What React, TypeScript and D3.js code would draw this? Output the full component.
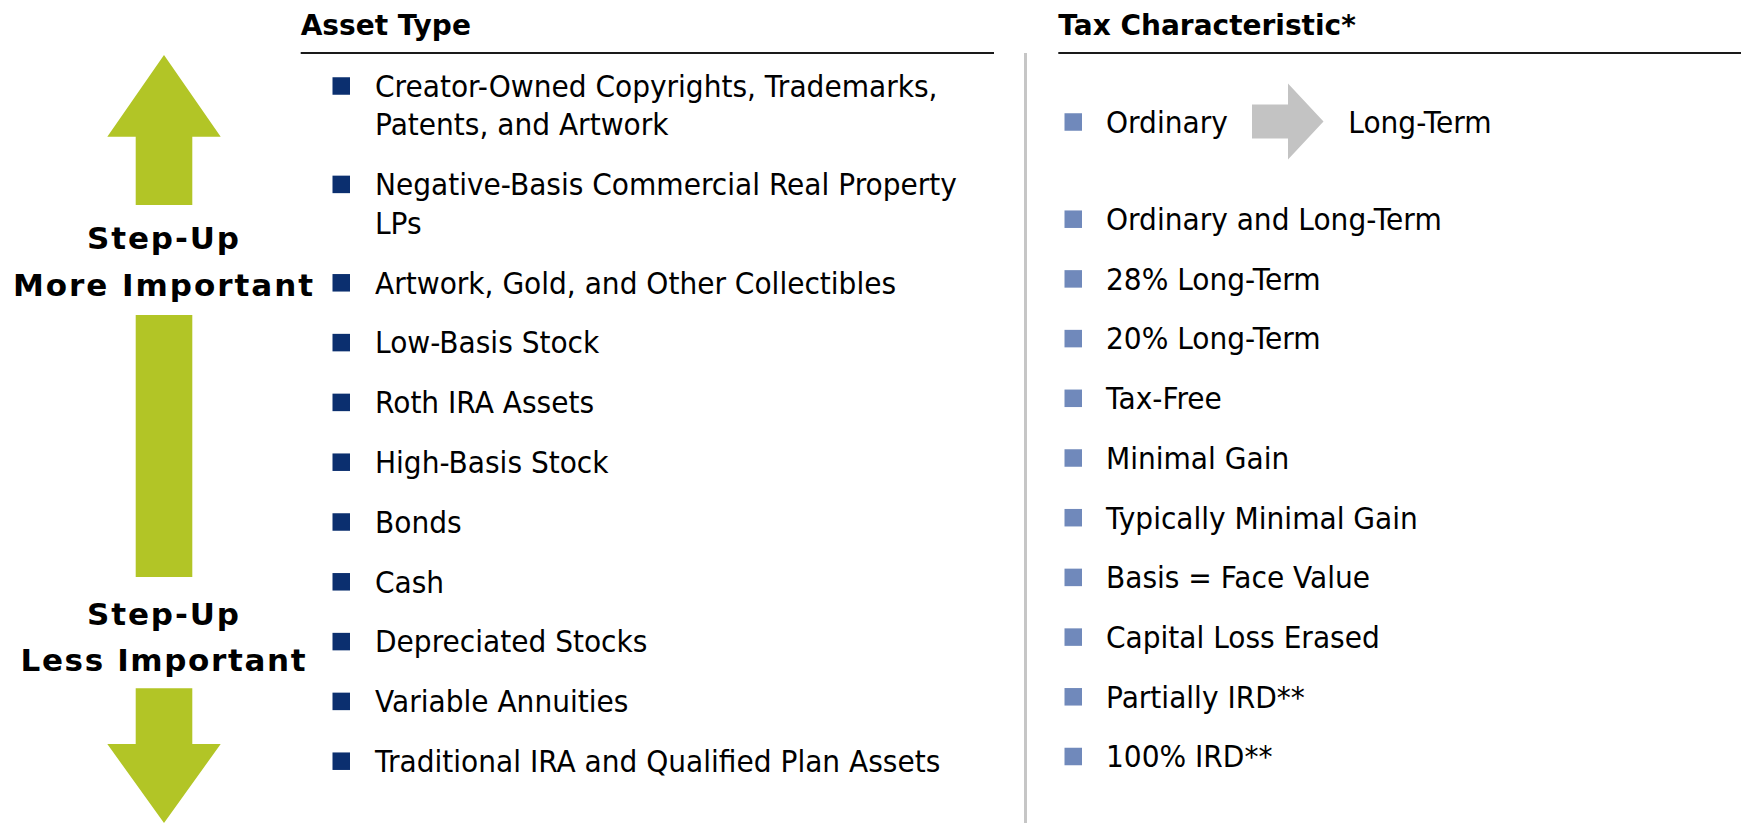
import React from "react";
import * as d3 from "d3";

// ---------- data ----------
const headers = ["Asset Type", "Tax Characteristic*"];

const assetTypes: string[][] = [
  ["Creator-Owned Copyrights, Trademarks,", "Patents, and Artwork"],
  ["Negative-Basis Commercial Real Property", "LPs"],
  ["Artwork, Gold, and Other Collectibles"],
  ["Low-Basis Stock"],
  ["Roth IRA Assets"],
  ["High-Basis Stock"],
  ["Bonds"],
  ["Cash"],
  ["Depreciated Stocks"],
  ["Variable Annuities"],
  ["Traditional IRA and Qualified Plan Assets"],
];

const taxTransition = ["Ordinary", "Long-Term"];

const taxCharacteristics = [
  "Ordinary and Long-Term",
  "28% Long-Term",
  "20% Long-Term",
  "Tax-Free",
  "Minimal Gain",
  "Typically Minimal Gain",
  "Basis = Face Value",
  "Capital Loss Erased",
  "Partially IRD**",
  "100% IRD**",
];

const scaleLabels = [
  ["Step-Up", "More Important"],
  ["Step-Up", "Less Important"],
];

// ---------- styles ----------
const W = 1741;
const H = 823;
const GREEN = "#b2c526";
const NAVY = "#0b2f6f";
const LIGHTBLUE = "#7089bb";
const GRAY_ARROW = "#c3c3c3";
const DIVIDER = "#c6c6c6";
const FONT = "'DejaVu Sans', Verdana, sans-serif";
const ITEM_SIZE = 31;
const SX = 0.905;
const CAP_HALF = 11.3;
const BULLET = 17.5;

export default function App() {
  // left column layout
  const leftTop = 85.5;
  const paraGap = 59.8;
  const lineGap = 38.6;
  const leftLines: { text: string; y: number; first: boolean }[] = [];
  let extra = 0;
  assetTypes.forEach((lines, i) => {
    lines.forEach((t, j) => {
      leftLines.push({ text: t, y: leftTop + i * paraGap + (extra + j) * lineGap, first: j === 0 });
    });
    extra += lines.length - 1;
  });

  // right column layout
  const yRight = d3.scaleLinear().domain([0, taxCharacteristics.length - 1]).range([218.7, 756]);
  const transY = 121.5;

  const leftBulletX = 332.5;
  const leftTextX = 375;
  const rightBulletX = 1064.5;
  const rightTextX = 1106;

  const line = d3.line<[number, number]>();

  // vertical importance arrows
  const cx = 164;
  const hh = 56.7;
  const sh = 28.3;
  const upArrow: [number, number][] = [
    [cx, 55], [cx + hh, 136.7], [cx + sh, 136.7], [cx + sh, 205],
    [cx - sh, 205], [cx - sh, 136.7], [cx - hh, 136.7],
  ];
  const downArrow: [number, number][] = [
    [cx - sh, 688.3], [cx + sh, 688.3], [cx + sh, 744], [cx + hh, 744],
    [cx, 823], [cx - hh, 744], [cx - sh, 744],
  ];

  // gray transition arrow
  const gy = transY;
  const grayArrow: [number, number][] = [
    [1252, gy - 17], [1288, gy - 17], [1288, gy - 38], [1323.5, gy],
    [1288, gy + 38], [1288, gy + 17], [1252, gy + 17],
  ];

  const itemText = (x: number, cy: number, t: string, key: string) => (
    <text
      key={key}
      transform={`translate(${x},${cy + CAP_HALF}) scale(${SX},1)`}
      fontFamily={FONT}
      fontSize={ITEM_SIZE}
      fill="#000"
    >
      {t}
    </text>
  );

  const labelWidths = [[152, 300], [152, 285]];
  const labelBaselines = [[248.8, 295.5], [624.5, 670.5]];

  return (
    <svg
      width={W}
      height={H}
      style={{ position: "absolute", left: 0, top: 0, background: "#fff" }}
    >
      <rect x={0} y={0} width={W} height={H} fill="#fff" />

      {/* headers */}
      <text x={300.7} y={35} fontFamily={FONT} fontWeight="bold" fontSize={28} fill="#000">
        {headers[0]}
      </text>
      <line x1={300.7} x2={994} y1={53} y2={53} stroke="#1a1a1a" strokeWidth={2} />
      <text x={1058.3} y={35} fontFamily={FONT} fontWeight="bold" fontSize={28} fill="#000">
        {headers[1]}
      </text>
      <line x1={1058.3} x2={W} y1={53} y2={53} stroke="#1a1a1a" strokeWidth={2} />

      {/* divider */}
      <line x1={1025.5} x2={1025.5} y1={53} y2={H} stroke={DIVIDER} strokeWidth={3} />

      {/* importance arrows */}
      <path d={line(upArrow) + "Z"} fill={GREEN} />
      <rect x={cx - sh} y={315} width={sh * 2} height={577 - 315} fill={GREEN} />
      <path d={line(downArrow) + "Z"} fill={GREEN} />
      {scaleLabels.map((pair, i) =>
        pair.map((t, j) => (
          <text
            key={`sl${i}${j}`}
            x={163}
            y={labelBaselines[i][j]}
            textAnchor="middle"
            fontFamily={FONT}
            fontWeight="bold"
            fontSize={31}
            textLength={labelWidths[i][j]}
            lengthAdjust="spacing"
            fill="#000"
          >
            {t}
          </text>
        ))
      )}

      {/* asset types */}
      {leftLines.map((l, i) => (
        <g key={`l${i}`}>
          {l.first && (
            <rect
              x={leftBulletX}
              y={l.y - BULLET / 2 + 0.5}
              width={BULLET}
              height={BULLET}
              fill={NAVY}
            />
          )}
          {itemText(leftTextX, l.y, l.text, `lt${i}`)}
        </g>
      ))}

      {/* tax characteristics */}
      <rect x={rightBulletX} y={transY - BULLET / 2 + 0.5} width={BULLET} height={BULLET} fill={LIGHTBLUE} />
      {itemText(rightTextX, transY, taxTransition[0], "tt0")}
      <path d={line(grayArrow) + "Z"} fill={GRAY_ARROW} />
      {itemText(1348.3, transY, taxTransition[1], "tt1")}

      {taxCharacteristics.map((t, i) => (
        <g key={`r${i}`}>
          <rect
            x={rightBulletX}
            y={yRight(i) - BULLET / 2 + 0.5}
            width={BULLET}
            height={BULLET}
            fill={LIGHTBLUE}
          />
          {itemText(rightTextX, yRight(i), t, `rt${i}`)}
        </g>
      ))}
    </svg>
  );
}
